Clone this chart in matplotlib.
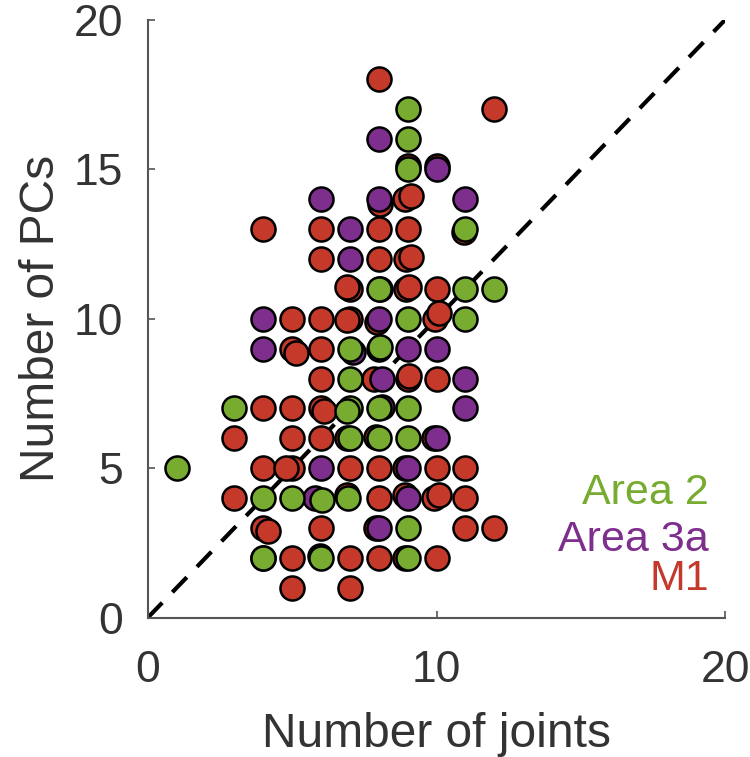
import matplotlib
matplotlib.use("Agg")
import matplotlib.pyplot as plt

# datos (numero de articulaciones, numero de PCs)
m1_x = [3, 3, 4, 4, 4, 4, 4.15, 4, 5, 5, 5.15, 5, 5, 5, 4.8, 5, 5,
        6, 6, 6, 6, 6, 6, 6.1, 6, 6, 5.95,
        7, 6.9, 7, 6.9, 6.9, 6.9, 7, 7, 7,
        8, 8.05, 8, 8, 7.95, 7.85, 7.9, 8, 8, 7.9, 8,
        9, 8.9, 9.1, 9, 8.95, 9.1, 8.95, 9.05, 9, 9.05, 8.9, 8.9, 8.9,
        10, 10, 9.95, 10.1, 10, 9.9, 10, 9.9, 10.1, 10,
        10.95, 11, 11, 11, 12, 12]
m1_y = [6, 4, 13, 7, 5, 3, 2.9, 2, 10, 9, 8.85, 7, 6, 5, 5, 2, 1,
        13, 12, 10, 9, 8, 7, 6.9, 6, 3, 2.05,
        11, 11.05, 10, 9.95, 6, 4.1, 5, 2, 1,
        18, 13.85, 13, 12, 9.9, 8, 6.05, 5, 4, 3, 2,
        15.1, 14, 14.1, 13, 12, 12.05, 11, 11.05, 8, 8.1, 5, 4.1, 2,
        15.1, 11, 10, 10.2, 8, 6, 5, 4, 4.1, 2,
        12.9, 5, 4, 3, 17, 3]

a3_x = [4, 4, 6, 6, 5.8, 7, 7, 7.1, 8, 8, 8, 8.1, 8.1, 8.05, 8,
        9, 9, 9, 10, 10, 10, 11, 11, 11]
a3_y = [10, 9, 14, 5, 4, 13, 12, 8.9, 16, 14, 10, 8, 7.05, 11, 3,
        9, 5, 4, 15, 9, 6, 14, 8, 7]

a2_x = [1, 3, 4, 4, 5, 6.05, 6, 7, 7, 7, 6.9, 7, 6.95,
        8, 8, 8.05, 8, 8, 9, 9, 9, 9, 9, 9, 9, 9,
        11, 11, 11, 12]
a2_y = [5, 7, 4, 2, 4, 3.95, 2, 9, 8, 7, 6.9, 6, 4,
        11, 9, 9.05, 7, 6, 17, 16, 15, 10, 7, 6, 3, 2,
        13, 11, 10, 11]

grupos = ["Area 2", "Area 3a", "M1"]
colores = ["#77ac30", "#7e2f8e", "#c4392a"]

plt.rcParams['font.family'] = ['Liberation Sans', 'DejaVu Sans']
fig = plt.figure(figsize=(7.5, 7.57), dpi=100)
ax = fig.add_axes([0.197, 0.184, 0.77, 0.79])

gris = "#333333"
ax.plot([0, 20], [0, 20], color="black", linestyle=(0, (5, 3.5)), linewidth=3, zorder=1)

# orden de dibujo: M1 abajo, luego 3a, luego area 2 encima
ax.scatter(m1_x, m1_y, s=300, c=colores[2], edgecolors="black", linewidths=1.8, zorder=2)
ax.scatter(a3_x, a3_y, s=300, c=colores[1], edgecolors="black", linewidths=1.8, zorder=3)
ax.scatter(a2_x, a2_y, s=300, c=colores[0], edgecolors="black", linewidths=1.8, zorder=4)

ax.set_xlim(0, 20)
ax.set_ylim(0, 20)
ax.set_xticks([0, 10, 20])
ax.set_yticks([0, 5, 10, 15, 20])
ax.spines["top"].set_visible(False)
ax.spines["right"].set_visible(False)
for lado in ["left", "bottom"]:
    ax.spines[lado].set_color("#555555")
    ax.spines[lado].set_linewidth(1.5)
ax.tick_params(direction="in", length=5, width=1.2, color="#555555",
               labelsize=32, labelcolor=gris, pad=18)
ax.tick_params(axis="x", pad=23)
ax.set_xlabel("Number of joints", fontsize=34.5, color=gris)
ax.set_ylabel("Number of PCs", fontsize=34.5, color=gris)
ax.xaxis.set_label_coords(0.5, -0.158)
ax.yaxis.set_label_coords(-0.145, 0.5)

# leyenda como texto de colores
posy = [0.208, 0.13, 0.064]
for nombre, col, yy in zip(grupos, colores, posy):
    ax.text(0.972, yy, nombre, transform=ax.transAxes, ha="right",
            va="center", fontsize=31, color=col)

ax.patch.set_alpha(0)
plt.savefig("out.png", dpi=100)
